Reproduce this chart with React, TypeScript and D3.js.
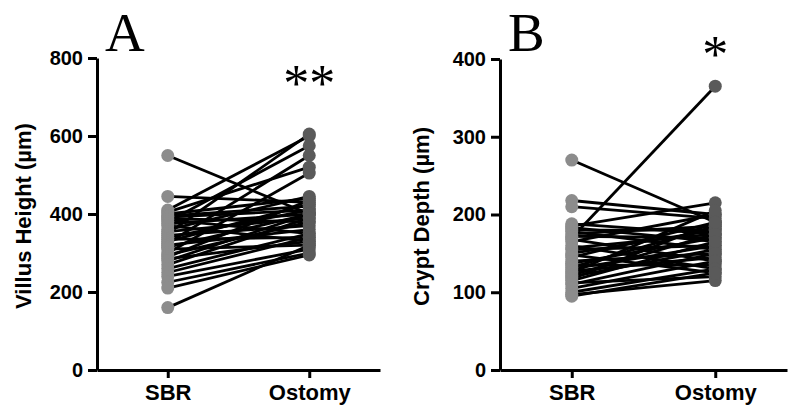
import React, { useEffect, useRef } from "react";
import * as d3 from "d3";

const groups = ["SBR", "Ostomy"];

// Panel A: villus height (µm), paired SBR -> Ostomy
const villusSbr = [550, 445, 410, 405, 400, 395, 392, 388, 385, 380, 375, 370, 360, 355, 350, 345, 340, 335, 330, 325, 320, 315, 310, 300, 295, 290, 285, 280, 270, 260, 250, 240, 225, 210, 160];
const villusOstomy = [400, 430, 600, 520, 440, 420, 410, 380, 350, 575, 400, 330, 445, 390, 605, 370, 410, 340, 425, 550, 360, 400, 320, 505, 380, 435, 330, 400, 390, 350, 340, 310, 300, 295, 320];
const villusTicks = [0, 200, 400, 600, 800];

// Panel B: crypt depth (µm)
const cryptSbr = [270, 218, 210, 188, 185, 183, 180, 178, 175, 172, 170, 168, 165, 160, 157, 155, 150, 148, 145, 140, 137, 135, 132, 130, 127, 125, 122, 120, 117, 115, 112, 110, 105, 100, 97, 95];
const cryptOstomy = [190, 200, 195, 175, 215, 165, 180, 155, 185, 170, 365, 140, 200, 130, 175, 160, 180, 125, 190, 150, 170, 135, 185, 160, 145, 205, 175, 155, 190, 165, 120, 150, 140, 130, 115, 125];
const cryptTicks = [0, 100, 200, 300, 400];

const panels = [
  {
    letter: "A", stars: "**", label: "Villus  Height (µm)",
    sbr: villusSbr, ostomy: villusOstomy, ticks: villusTicks, max: 800,
    x0: 97, x1: 380, yTop: 58, labelX: 23, starY: 101,
  },
  {
    letter: "B", stars: "*", label: "Crypt Depth (µm)",
    sbr: cryptSbr, ostomy: cryptOstomy, ticks: cryptTicks, max: 400,
    x0: 500, x1: 787, yTop: 59, labelX: 421, starY: 72,
  },
];

const App = () => {
  const svgRef = useRef<SVGSVGElement>(null);

  useEffect(() => {
    const svg = d3.select(svgRef.current);
    svg.selectAll("*").remove();
    const yBottom = 370;

    panels.forEach((p) => {
      const x = d3.scalePoint().domain(groups).range([p.x0, p.x1]).padding(0.5);
      const y = d3.scaleLinear().domain([0, p.max]).range([yBottom, p.yTop]);
      const g = svg.append("g");

      // paired lines
      p.sbr.forEach((v, i) => {
        g.append("line")
          .attr("x1", x("SBR")!)
          .attr("y1", y(v))
          .attr("x2", x("Ostomy")!)
          .attr("y2", y(p.ostomy[i]))
          .attr("stroke", "#000")
          .attr("stroke-width", 2.8);
      });

      // dots
      g.selectAll(".sbr")
        .data(p.sbr)
        .enter()
        .append("circle")
        .attr("cx", x("SBR")!)
        .attr("cy", (d) => y(d))
        .attr("r", 6.5)
        .attr("fill", "#8c8c8c");
      g.selectAll(".ost")
        .data(p.ostomy)
        .enter()
        .append("circle")
        .attr("cx", x("Ostomy")!)
        .attr("cy", (d) => y(d))
        .attr("r", 6.5)
        .attr("fill", "#5a5a5a");

      // y axis
      const ya = g.append("g")
        .attr("transform", `translate(${p.x0},0)`)
        .call(d3.axisLeft(y).tickValues(p.ticks).tickSize(9).tickSizeOuter(0).tickPadding(5));
      ya.selectAll("text")
        .attr("font-family", "Liberation Sans, Arial, sans-serif")
        .attr("font-weight", "bold")
        .attr("font-size", 20)
        .attr("fill", "#000");

      // x axis
      const xa = g.append("g")
        .attr("transform", `translate(0,${yBottom})`)
        .call(d3.axisBottom(x).tickSize(8).tickSizeOuter(0).tickPadding(6));
      xa.selectAll("text")
        .attr("font-family", "Liberation Sans, Arial, sans-serif")
        .attr("font-weight", "bold")
        .attr("font-size", 22)
        .attr("fill", "#000");

      g.selectAll(".domain, .tick line")
        .attr("stroke", "#000")
        .attr("stroke-width", 3);

      // y label
      g.append("text")
        .attr("transform", `translate(${p.labelX},${(yBottom + p.yTop) / 2 + 2}) rotate(-90)`)
        .attr("text-anchor", "middle")
        .attr("dy", "0.35em")
        .attr("font-family", "Liberation Sans, Arial, sans-serif")
        .attr("font-weight", "bold")
        .attr("font-size", 22)
        .text(p.label);

      // panel letter
      g.append("text")
        .attr("x", p.x0 + 8)
        .attr("y", 51)
        .attr("font-family", "Liberation Serif, Times New Roman, serif")
        .attr("font-size", 55)
        .text(p.letter);

      // significance stars
      g.append("text")
        .attr("x", x("Ostomy")!)
        .attr("y", p.starY)
        .attr("text-anchor", "middle")
        .attr("font-family", "Liberation Serif, Times New Roman, serif")
        .attr("font-size", 52)
        .text(p.stars);
    });
  }, []);

  return (
    <svg
      ref={svgRef}
      width={800}
      height={416}
      style={{ position: "absolute", left: 0, top: 0, background: "#fff" }}
    ></svg>
  );
};

export default App;
